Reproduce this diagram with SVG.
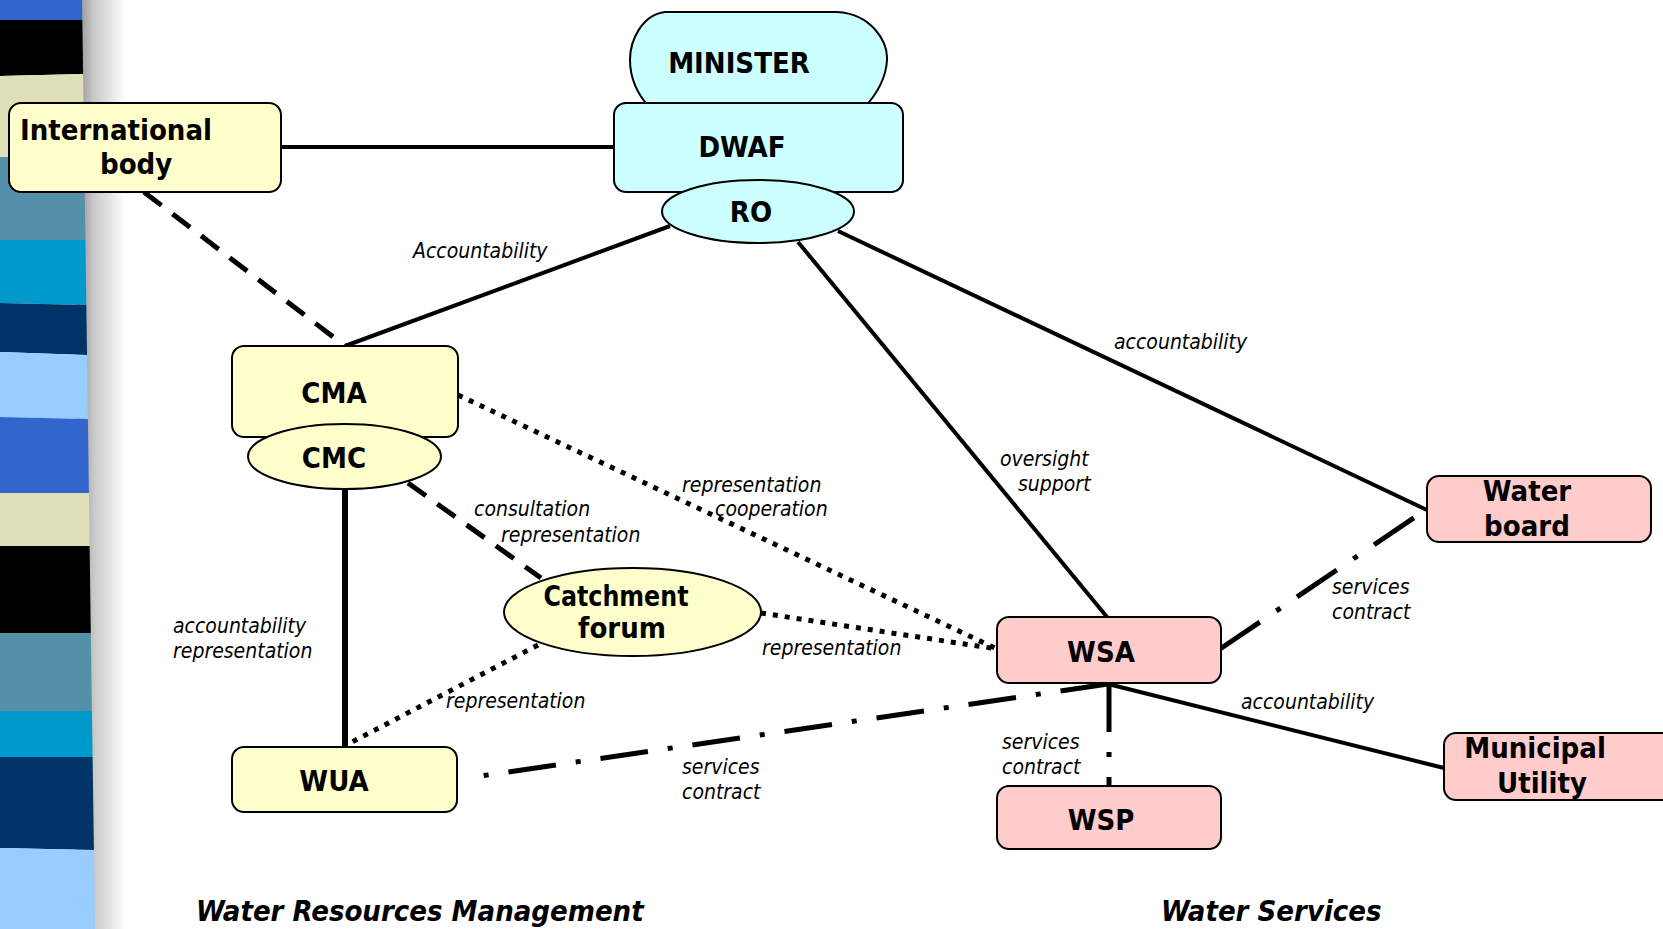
<svg xmlns="http://www.w3.org/2000/svg" width="1663" height="929" viewBox="0 0 1663 929">
<defs>
<linearGradient id="shade" x1="0" y1="0" x2="1" y2="0">
<stop offset="0" stop-color="#8a8a8a"/>
<stop offset="0.35" stop-color="#c8c8c8"/>
<stop offset="1" stop-color="#ffffff"/>
</linearGradient>
</defs>
<style>
.node{stroke:#000;stroke-width:2}
.y{fill:#FFFFCC}.c{fill:#CCFFFF}.p{fill:#FFCCCC}
.t{font-family:"DejaVu Sans Condensed","DejaVu Sans",sans-serif;font-stretch:condensed;font-weight:bold;font-size:29px;fill:#000;text-anchor:middle}
.l{font-family:"DejaVu Sans Condensed","DejaVu Sans",sans-serif;font-stretch:condensed;font-style:italic;font-size:21px;fill:#000}
.h{font-family:"DejaVu Sans Condensed","DejaVu Sans",sans-serif;font-stretch:condensed;font-style:italic;font-weight:bold;font-size:29px;fill:#000}
.solid{stroke:#000;stroke-width:4;fill:none}
.thick{stroke:#000;stroke-width:6;fill:none}
.dash{stroke:#000;stroke-width:5;fill:none;stroke-dasharray:22 14}
.dot{stroke:#000;stroke-width:5;fill:none;stroke-dasharray:5 7}
.dd{stroke:#000;stroke-width:5;fill:none;stroke-dasharray:48 20 5 20}
</style>
<rect width="1663" height="929" fill="#fff"/>
<g id="sidebar">
<rect x="76" y="0" width="50" height="929" fill="url(#shade)"/>
<polygon points="0,0 82,0 82.3,20 0,20" fill="#3366CC"/>
<polygon points="0,20 82.3,20 83.1,74 0,76" fill="#000"/>
<polygon points="0,76 83.1,74 84.2,157 0,157" fill="#E0E0B8"/>
<polygon points="0,157 84.2,157 85.4,240 0,240" fill="#5590AA"/>
<polygon points="0,240 85.4,240 86.3,305 0,303" fill="#0099CC"/>
<polygon points="0,303 86.3,305 87,355 0,352" fill="#003366"/>
<polygon points="0,352 87,355 87.9,419 0,417" fill="#99CCFF"/>
<polygon points="0,417 87.9,419 88.9,493 0,493" fill="#3366CC"/>
<polygon points="0,493 88.9,493 89.6,546 0,546" fill="#E0E0B8"/>
<polygon points="0,546 89.6,546 90.8,633 0,633" fill="#000"/>
<polygon points="0,633 90.8,633 91.9,711 0,711" fill="#5590AA"/>
<polygon points="0,711 91.9,711 92.6,757 0,757" fill="#0099CC"/>
<polygon points="0,757 92.6,757 93.9,850 0,848" fill="#003366"/>
<polygon points="0,848 93.9,850 95,929 0,929" fill="#99CCFF"/>
</g>
<g id="connectors">
<line class="solid" x1="281" y1="147" x2="614" y2="147" stroke-width="5"/>
<line class="dash" x1="144" y1="192" x2="345" y2="346"/>
<line class="solid" x1="670" y1="226" x2="345" y2="346"/>
<line class="solid" x1="798" y1="242" x2="1107" y2="617"/>
<line class="solid" x1="838" y1="231" x2="1427" y2="510"/>
<line class="dot" x1="458" y1="395" x2="997" y2="649"/>
<line class="thick" x1="345" y1="489" x2="345" y2="748"/>
<line class="dash" x1="408" y1="483" x2="541" y2="578"/>
<line class="dot" x1="761" y1="613" x2="997" y2="649"/>
<line class="dot" x1="538" y1="645" x2="352" y2="742"/>
<line class="dd" x1="1108" y1="684" x2="474" y2="777"/>
<line class="dd" x1="1220" y1="649" x2="1427" y2="509"/>
<line class="dd" x1="1109" y1="684" x2="1109" y2="786"/>
<line class="solid" x1="1108" y1="684" x2="1444" y2="768"/>
</g>
<g id="labels">
<text class="l" x="413" y="258">Accountability</text>
<text class="l" x="1114" y="349">accountability</text>
<text class="l" x="1000" y="466">oversight</text>
<text class="l" x="1018" y="491">support</text>
<text class="l" x="682" y="492">representation</text>
<text class="l" x="715" y="516">cooperation</text>
<text class="l" x="474" y="516">consultation</text>
<text class="l" x="501" y="542">representation</text>
<text class="l" x="173" y="633">accountability</text>
<text class="l" x="173" y="658">representation</text>
<text class="l" x="762" y="655">representation</text>
<text class="l" x="446" y="708">representation</text>
<text class="l" x="1332" y="594">services</text>
<text class="l" x="1332" y="619">contract</text>
<text class="l" x="1241" y="709">accountability</text>
<text class="l" x="1002" y="749">services</text>
<text class="l" x="1002" y="774">contract</text>
<text class="l" x="682" y="774">services</text>
<text class="l" x="682" y="799">contract</text>
</g>
<g id="international">
<rect class="node y" x="9" y="103" width="272" height="89" rx="12"/>
<text class="t" x="20" y="140" style="text-anchor:start">International</text>
<text class="t" x="100" y="174" style="text-anchor:start">body</text>
</g>
<g id="minister">
<path class="node c" d="M665,12 L837,12 C872,14 888,42 887,60 C886,80 876,95 864,108 L650,108 C638,95 630,80 630,60 C630,40 642,15 665,12 Z"/>
<text class="t" x="739" y="73">MINISTER</text>
</g>
<g id="dwaf">
<rect class="node c" x="614" y="103" width="289" height="89" rx="12"/>
<text class="t" x="742" y="157">DWAF</text>
</g>
<g id="ro">
<ellipse class="node c" cx="758" cy="211.5" rx="96" ry="31.5"/>
<text class="t" x="751" y="222">RO</text>
</g>
<g id="cma">
<rect class="node y" x="232" y="346" width="226" height="91" rx="12"/>
<text class="t" x="334" y="403">CMA</text>
</g>
<g id="cmc">
<ellipse class="node y" cx="344.5" cy="456.5" rx="96.5" ry="32.5"/>
<text class="t" x="334" y="468">CMC</text>
</g>
<g id="catchment">
<ellipse class="node y" cx="632.5" cy="612" rx="128.5" ry="44"/>
<text class="t" x="616" y="606" textLength="145" lengthAdjust="spacingAndGlyphs">Catchment</text>
<text class="t" x="622" y="638">forum</text>
</g>
<g id="wua">
<rect class="node y" x="232" y="747" width="225" height="65" rx="12"/>
<text class="t" x="334" y="791">WUA</text>
</g>
<g id="wsa">
<rect class="node p" x="997" y="617" width="224" height="66" rx="12"/>
<text class="t" x="1101" y="662">WSA</text>
</g>
<g id="wsp">
<rect class="node p" x="997" y="786" width="224" height="63" rx="12"/>
<text class="t" x="1101" y="830">WSP</text>
</g>
<g id="waterboard">
<rect class="node p" x="1427" y="476" width="224" height="66" rx="12"/>
<text class="t" x="1527" y="501">Water</text>
<text class="t" x="1527" y="536">board</text>
</g>
<g id="municipal">
<rect class="node p" x="1444" y="733" width="232" height="67" rx="12"/>
<text class="t" x="1535" y="758">Municipal</text>
<text class="t" x="1542" y="793">Utility</text>
</g>
<g id="headings">
<text class="h" x="196" y="921">Water Resources Management</text>
<text class="h" x="1161" y="921">Water Services</text>
</g>
</svg>
